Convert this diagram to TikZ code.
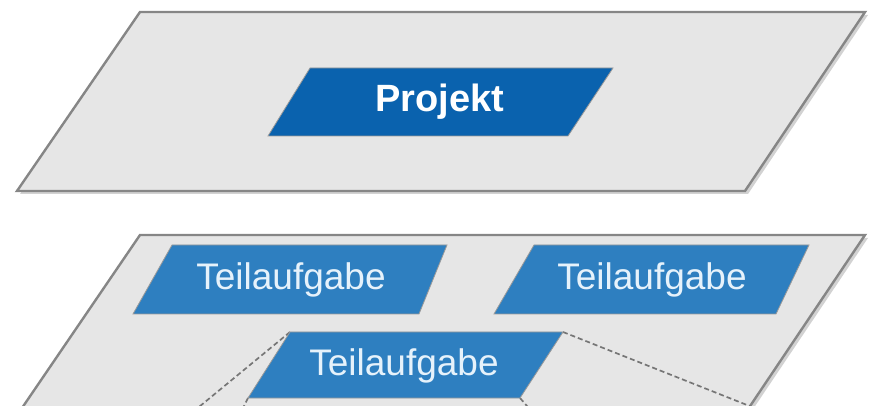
\documentclass[tikz,border=0pt]{standalone}
\usepackage{fontspec}
\newfontfamily\labelfont{Liberation Sans}
\definecolor{planefill}{HTML}{E6E6E6}
\definecolor{planeedge}{HTML}{868686}
\definecolor{planeshadow}{HTML}{D2D2D2}
\definecolor{projblue}{HTML}{0A62AE}
\definecolor{taskblue}{HTML}{2E7FC0}
\definecolor{taskedge}{HTML}{9A9A9A}
\definecolor{tasktext}{HTML}{E6F2FB}
\definecolor{linkgrey}{HTML}{767676}
\tikzset{
  plane/.style={fill=planefill, draw=planeedge, line width=2.4pt, line join=miter},
  planeshade/.style={fill=planeshadow},
  projbox/.style={fill=projblue, draw=taskedge, line width=0.8pt},
  taskbox/.style={fill=taskblue, draw=taskedge, line width=0.8pt},
  projtext/.style={font=\labelfont\bfseries\fontsize{38}{44}\selectfont, text=white, inner sep=0pt},
  tasktext/.style={font=\labelfont\fontsize{37}{44}\selectfont, text=tasktext, inner sep=0pt},
  link/.style={draw=linkgrey, line width=1.7pt, dash pattern=on 5pt off 3pt}
}
\begin{document}
\begin{tikzpicture}[x=1pt, y=-1pt]
\useasboundingbox (0,0) rectangle (871,406);
\clip (0,0) rectangle (871,406);

% upper plane (project level)
\fill[planeshade] (143,15) -- (868,15) -- (748,194) -- (20,194) -- cycle;
\draw[plane] (140,12) -- (865,12) -- (745,191) -- (17,191) -- cycle;

% lower plane (sub-task level), running off the lower edge
\fill[planeshade] (143,238) -- (868,238) -- (737,433) -- (10,433) -- cycle;
\draw[plane] (140,235) -- (865,235) -- (734,430) -- (7,430) -- cycle;

% project box
\coordinate (p-tl) at (310,68);
\coordinate (p-tr) at (613,68);
\coordinate (p-br) at (568,136);
\coordinate (p-bl) at (268,136);
\fill[projbox] (p-tl) -- (p-tr) -- (p-br) -- (p-bl) -- cycle;
\node[projtext] (projekt) at (440,102) {Projekt};

% sub-task boxes
\coordinate (a-tl) at (172,245);
\coordinate (a-tr) at (447,245);
\coordinate (a-br) at (419,314);
\coordinate (a-bl) at (133,314);
\fill[taskbox] (a-tl) -- (a-tr) -- (a-br) -- (a-bl) -- cycle;
\node[tasktext] (taskA) at (291,280) {Teilaufgabe};

\coordinate (b-tl) at (534,245);
\coordinate (b-tr) at (809,245);
\coordinate (b-br) at (776,314);
\coordinate (b-bl) at (494,314);
\fill[taskbox] (b-tl) -- (b-tr) -- (b-br) -- (b-bl) -- cycle;
\node[tasktext] (taskB) at (652,280) {Teilaufgabe};

% lines to the next level below
\coordinate (c-tl) at (290,332);
\coordinate (c-tr) at (563,332);
\coordinate (c-br) at (520,398);
\coordinate (c-bl) at (248,398);
\coordinate (down-l) at (171,430);
\coordinate (down-r) at (810,430);
\coordinate (down-bl) at (232,430);
\coordinate (down-br) at (548,430);
\draw[link] (c-tl) -- (down-l);
\draw[link] (c-tr) -- (down-r);
\draw[link] (c-bl) -- (down-bl);
\draw[link] (c-br) -- (down-br);

\fill[taskbox] (c-tl) -- (c-tr) -- (c-br) -- (c-bl) -- cycle;
\node[tasktext] (taskC) at (404,366) {Teilaufgabe};
\end{tikzpicture}
\end{document}
